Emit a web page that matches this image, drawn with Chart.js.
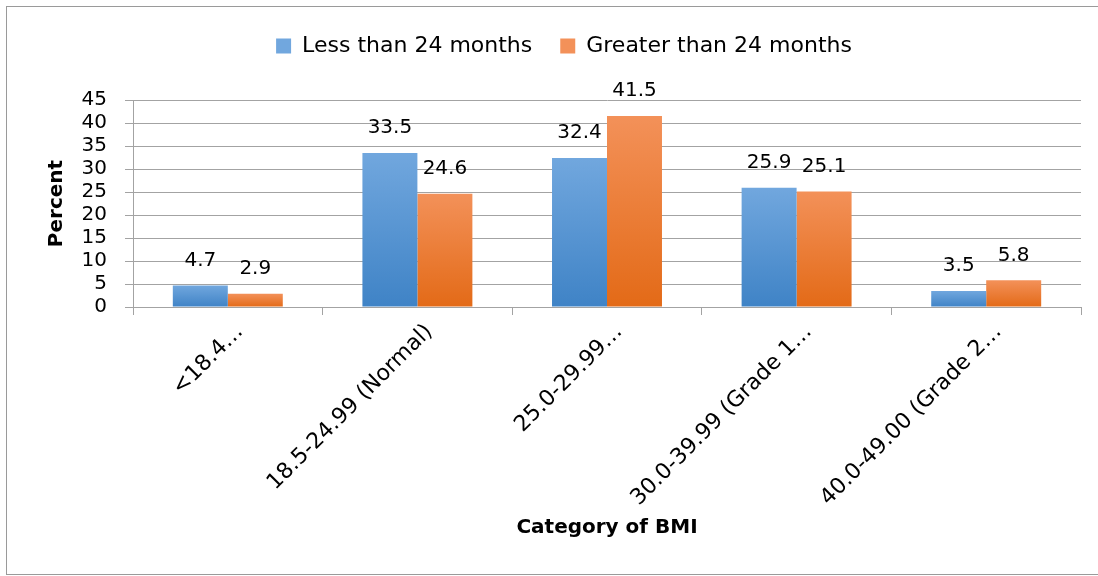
<!DOCTYPE html>
<html>
<head>
<meta charset="utf-8">
<script src="https://cdn.jsdelivr.net/npm/chart.js@4"></script>
<style>
  body { margin: 0; background: #fff; }
  #frame { position: absolute; left: 6px; top: 6px; width: 1100px; height: 567px; border: 1px solid #9a9a9a; }
  #wrap { position: absolute; left: 0; top: 0; width: 1091px; height: 567px; }
</style>
</head>
<body>
<div id="frame"><div id="wrap"><canvas id="myChart"></canvas></div></div>
<script>
// BMI categories (long names are cut off in the axis)
const categories = ["<18.4…", "18.5-24.99 (Normal)", "25.0-29.99…", "30.0-39.99 (Grade 1…", "40.0-49.00 (Grade 2…"];
const seriesNames = ["Less than 24 months", "Greater than 24 months"];
const lessThan24 = [4.7, 33.5, 32.4, 25.9, 3.5];
const greaterThan24 = [2.9, 24.6, 41.5, 25.1, 5.8];
const yMin = 0, yMax = 45, yStep = 5;

Chart.defaults.font.family = "'DejaVu Sans', sans-serif";
Chart.defaults.color = "#000";

// vertical gradient for each bar, from its top down to the zero line
function barFill(top, mid, bottom) {
  return function (c) {
    const chart = c.chart;
    if (c.type !== "data" || !chart.chartArea) return mid;
    const y = chart.scales.y;
    const g = chart.ctx.createLinearGradient(0, y.getPixelForValue(c.raw), 0, y.getPixelForValue(0));
    g.addColorStop(0, top);
    g.addColorStop(1, bottom);
    return g;
  };
}

// value written above every bar
const barValueLabels = {
  id: "barValueLabels",
  afterDatasetsDraw(chart) {
    const ctx = chart.ctx;
    ctx.save();
    ctx.font = "20px 'DejaVu Sans'";
    ctx.fillStyle = "#000";
    ctx.textAlign = "center";
    ctx.textBaseline = "middle";
    chart.data.datasets.forEach((ds, i) => {
      chart.getDatasetMeta(i).data.forEach((bar, j) => {
        ctx.fillText(ds.data[j].toFixed(1), bar.x, bar.y - 25);
      });
    });
    ctx.restore();
  }
};

// extra room under the legend, and nudge it a bit right
const legendSpacing = {
  id: "legendSpacing",
  beforeInit(chart) {
    const fit = chart.legend.fit;
    chart.legend.fit = function () {
      fit.call(this);
      this.height += 33;
    };
    const draw = chart.legend.draw;
    chart.legend.draw = function () {
      this.ctx.save();
      this.ctx.translate(20, 0);
      draw.call(this);
      this.ctx.restore();
    };
  }
};

const gridGrey = "#a3a3a3";

new Chart(document.getElementById("myChart"), {
  type: "bar",
  data: {
    labels: categories,
    datasets: [
      {
        label: seriesNames[0],
        data: lessThan24,
        backgroundColor: barFill("#71a7de", "#5b9bd5", "#3f83c6"),
        categoryPercentage: 0.58,
        barPercentage: 1
      },
      {
        label: seriesNames[1],
        data: greaterThan24,
        backgroundColor: barFill("#f39159", "#ed7d31", "#e36a17"),
        categoryPercentage: 0.58,
        barPercentage: 1
      }
    ]
  },
  options: {
    responsive: true,
    maintainAspectRatio: false,
    animation: false,
    devicePixelRatio: 1,
    layout: { padding: { top: 0, right: 17, bottom: 34, left: 0 } },
    plugins: {
      legend: {
        position: "top",
        labels: { boxWidth: 15, boxHeight: 15, padding: 28, font: { size: 22 } }
      },
      tooltip: { enabled: false }
    },
    scales: {
      x: {
        afterFit: (s) => { s.height = 233; },
        grid: { drawOnChartArea: false, drawTicks: true, tickLength: 8, color: gridGrey },
        border: { color: gridGrey },
        ticks: { minRotation: 45, maxRotation: 45, autoSkip: false, padding: 4, labelOffset: 12, font: { size: 22 } },
        title: { display: true, text: "Category of BMI", font: { size: 20, weight: "bold" }, padding: { top: 0, bottom: 0 } }
      },
      y: {
        min: yMin,
        max: yMax,
        afterFit: (s) => { s.width = 126; },
        grid: { color: gridGrey, tickLength: 8 },
        border: { color: gridGrey },
        ticks: { stepSize: yStep, maxTicksLimit: 11, autoSkip: false, padding: 18, font: { size: 20, lineHeight: 1 } },
        title: { display: true, text: "Percent", font: { size: 20, weight: "bold" }, padding: { top: 38, bottom: 0 } }
      }
    }
  },
  plugins: [barValueLabels, legendSpacing]
});
</script>
</body>
</html>
